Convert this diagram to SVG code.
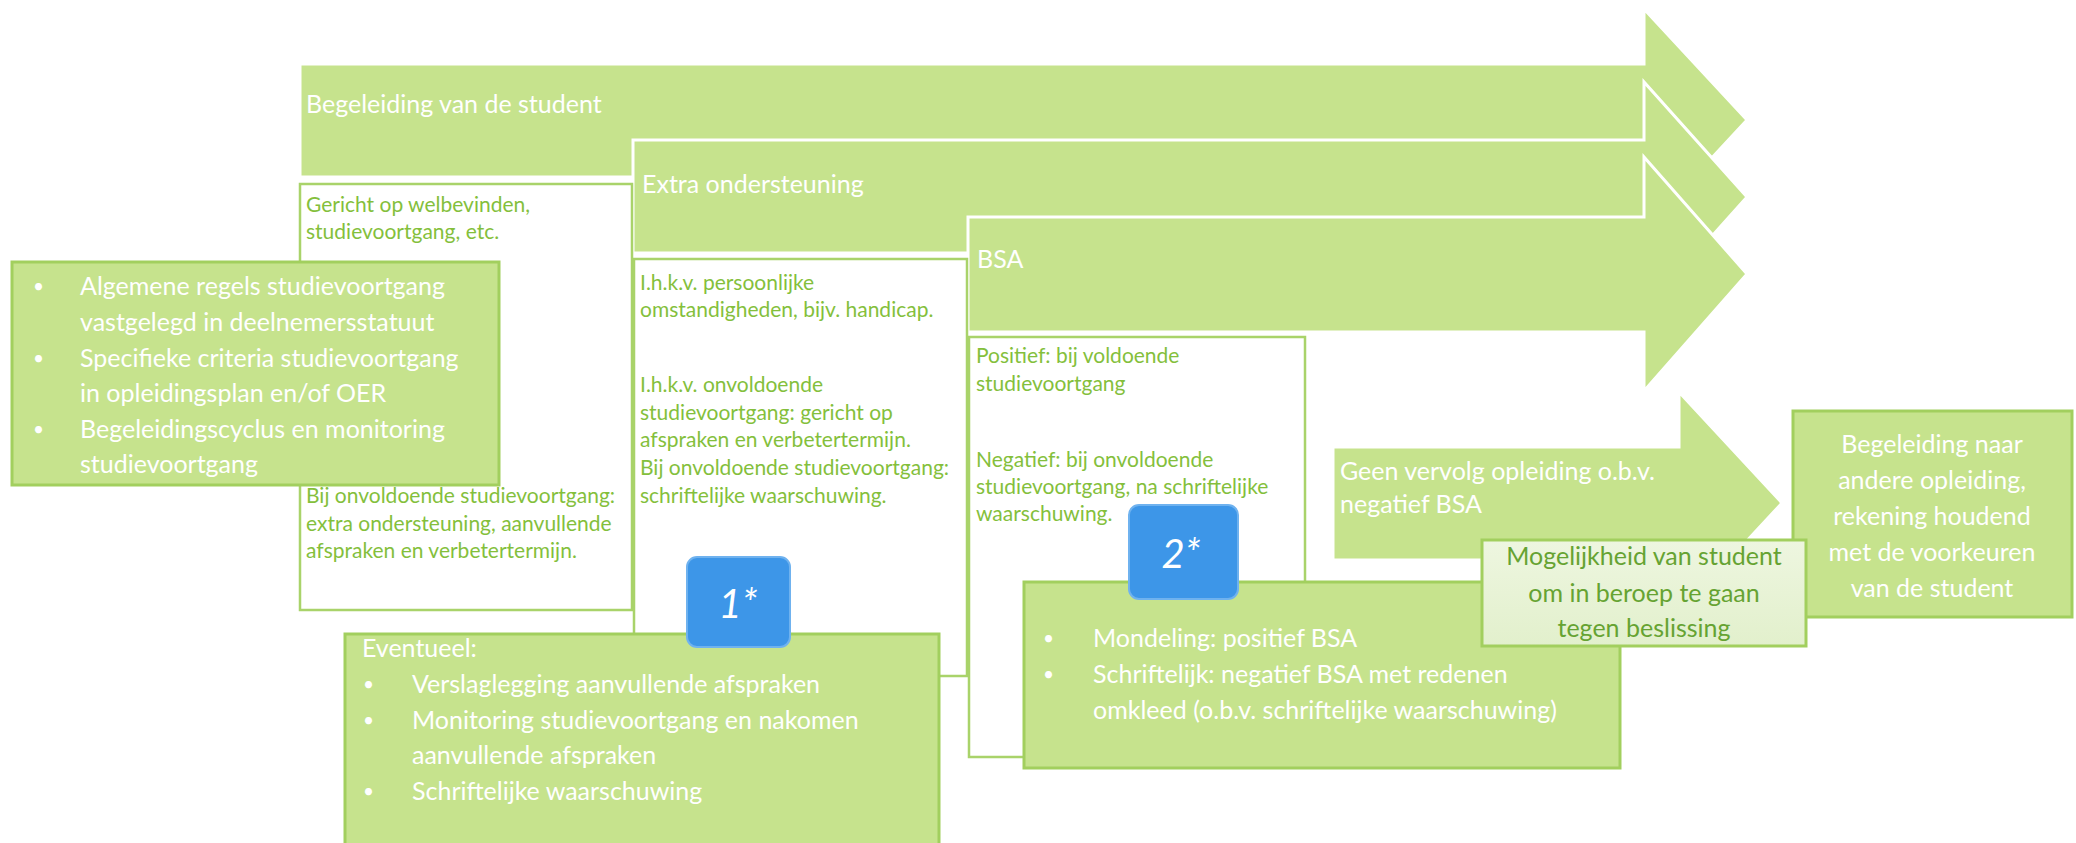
<svg xmlns="http://www.w3.org/2000/svg" width="2076" height="843" viewBox="0 0 2076 843">
<style>
.arrow{fill:#c6e38d;stroke:#ffffff;stroke-width:3}
.wbox{fill:#ffffff;stroke:#a9d36a;stroke-width:2.5}
.gbox{fill:#c6e38d;stroke:#a2cf5e;stroke-width:3}
.bbox{fill:#3d96e8;stroke:#6fb2ef;stroke-width:2}
text{font-family:Lato,"Open Sans","Liberation Sans",sans-serif}
.al{fill:#ffffff;font-size:25px}
.gt{fill:#84bf3c;font-size:21px}
.wt{fill:#ffffff;font-size:25px}
.bl{fill:#ffffff;font-size:19px}
.mt{fill:#66a332;font-size:25px;text-anchor:middle}
.ct{fill:#ffffff;font-size:25px;text-anchor:middle}
.num{fill:#ffffff;font-size:40px;font-style:italic;text-anchor:middle}
</style>
<defs>
<linearGradient id="pale" x1="0" y1="0" x2="0" y2="1">
<stop offset="0" stop-color="#eef6e0"/>
<stop offset="1" stop-color="#e2f0cc"/>
</linearGradient>
</defs>
<g id="arrow-begeleiding">
<path class="arrow" d="M300,64 H1644 V9 L1747,120 L1644,231 V177 H300 Z"/>
<text class="al" x="306" y="113">Begeleiding van de student</text>
</g>
<g id="arrow-extra">
<path class="arrow" d="M633,140 H1644 V82 L1747,197 L1644,312 V253 H633 Z"/>
<text class="al" x="642" y="193">Extra ondersteuning</text>
</g>
<g id="arrow-bsa">
<path class="arrow" d="M968,217 H1644 V157 L1747,274 L1644,391 V332 H968 Z"/>
<text class="al" x="977" y="268">BSA</text>
</g>
<g id="box-begeleiding-tekst">
<rect class="wbox" x="300" y="184" width="332" height="426"/>
<text class="gt" x="306" y="212">Gericht op welbevinden,</text>
<text class="gt" x="306" y="239">studievoortgang, etc.</text>
<text class="gt" x="306" y="503">Bij onvoldoende studievoortgang:</text>
<text class="gt" x="306" y="531">extra ondersteuning, aanvullende</text>
<text class="gt" x="306" y="558">afspraken en verbetertermijn.</text>
</g>
<g id="box-extra-tekst">
<rect class="wbox" x="634" y="259" width="333" height="417"/>
<text class="gt" x="640" y="290">I.h.k.v. persoonlijke</text>
<text class="gt" x="640" y="317">omstandigheden, bijv. handicap.</text>
<text class="gt" x="640" y="392">I.h.k.v. onvoldoende</text>
<text class="gt" x="640" y="420">studievoortgang: gericht op</text>
<text class="gt" x="640" y="447">afspraken en verbetertermijn.</text>
<text class="gt" x="640" y="475">Bij onvoldoende studievoortgang:</text>
<text class="gt" x="640" y="503">schriftelijke waarschuwing.</text>
</g>
<g id="box-bsa-tekst">
<rect class="wbox" x="969" y="337" width="336" height="420"/>
<text class="gt" x="976" y="363">Positief: bij voldoende</text>
<text class="gt" x="976" y="391">studievoortgang</text>
<text class="gt" x="976" y="467">Negatief: bij onvoldoende</text>
<text class="gt" x="976" y="494">studievoortgang, na schriftelijke</text>
<text class="gt" x="976" y="521">waarschuwing.</text>
</g>
<g id="box-regels">
<rect class="gbox" x="12" y="262" width="487" height="223"/>
<text class="bl" x="33" y="293">•</text>
<text class="wt" x="80" y="295">Algemene regels studievoortgang</text>
<text class="wt" x="80" y="331">vastgelegd in deelnemersstatuut</text>
<text class="bl" x="33" y="365">•</text>
<text class="wt" x="80" y="367">Specifieke criteria studievoortgang</text>
<text class="wt" x="80" y="402">in opleidingsplan en/of OER</text>
<text class="bl" x="33" y="436">•</text>
<text class="wt" x="80" y="438">Begeleidingscyclus en monitoring</text>
<text class="wt" x="80" y="473">studievoortgang</text>
</g>
<g id="box-eventueel">
<rect class="gbox" x="345" y="634" width="594" height="215"/>
<text class="wt" x="362" y="657">Eventueel:</text>
<text class="bl" x="363" y="691">•</text>
<text class="wt" x="412" y="693">Verslaglegging aanvullende afspraken</text>
<text class="bl" x="363" y="727">•</text>
<text class="wt" x="412" y="729">Monitoring studievoortgang en nakomen</text>
<text class="wt" x="412" y="764">aanvullende afspraken</text>
<text class="bl" x="363" y="798">•</text>
<text class="wt" x="412" y="800">Schriftelijke waarschuwing</text>
</g>
<g id="badge-1">
<rect class="bbox" x="687" y="557" width="103" height="90" rx="10"/>
<text class="num" x="738" y="618">1*</text>
</g>
<g id="box-mondeling">
<rect class="gbox" x="1024" y="582" width="596" height="186"/>
<text class="bl" x="1043" y="645">•</text>
<text class="wt" x="1093" y="647">Mondeling: positief BSA</text>
<text class="bl" x="1043" y="681">•</text>
<text class="wt" x="1093" y="683">Schriftelijk: negatief BSA met redenen</text>
<text class="wt" x="1093" y="719">omkleed (o.b.v. schriftelijke waarschuwing)</text>
</g>
<g id="badge-2">
<rect class="bbox" x="1129" y="505" width="109" height="94" rx="10"/>
<text class="num" x="1181" y="568">2*</text>
</g>
<g id="arrow-geen-vervolg">
<path class="arrow" d="M1333,447 H1679 V392 L1782,503 L1679,614 V560 H1333 Z"/>
<text class="al" x="1340" y="480">Geen vervolg opleiding o.b.v.</text>
<text class="al" x="1340" y="513">negatief BSA</text>
</g>
<g id="box-andere-opleiding">
<rect class="gbox" x="1793" y="411" width="279" height="206"/>
<text class="ct" x="1932" y="453">Begeleiding naar</text>
<text class="ct" x="1932" y="489">andere opleiding,</text>
<text class="ct" x="1932" y="525">rekening houdend</text>
<text class="ct" x="1932" y="561">met de voorkeuren</text>
<text class="ct" x="1932" y="597">van de student</text>
</g>
<g id="box-beroep">
<rect x="1482" y="540" width="324" height="106" fill="url(#pale)" stroke="#a2cf5e" stroke-width="3"/>
<text class="mt" x="1644" y="565">Mogelijkheid van student</text>
<text class="mt" x="1644" y="602">om in beroep te gaan</text>
<text class="mt" x="1644" y="637">tegen beslissing</text>
</g>
<g id="connectors"></g>
</svg>
